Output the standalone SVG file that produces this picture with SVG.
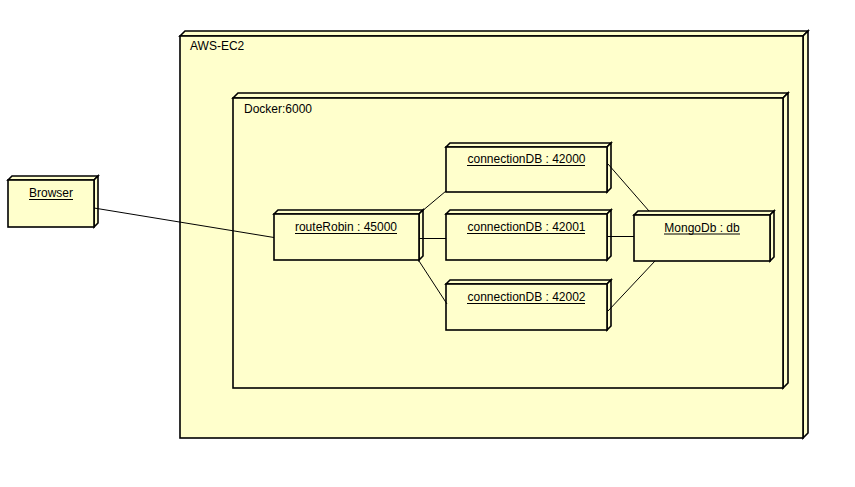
<svg xmlns="http://www.w3.org/2000/svg" width="855" height="487" viewBox="0 0 855 487">
<style>
.f{fill:#FFFFCC;stroke:#000;stroke-width:1.6;stroke-linejoin:miter}
.t{font-family:"Liberation Sans",Arial,sans-serif;font-size:12px;fill:#000}
.u{stroke:#000;stroke-width:1}
.c{stroke:#000;stroke-width:1;fill:none}
</style>
<rect width="855" height="487" fill="#fff"/>
<g id="aws-ec2">
<polygon class="f" points="180,36 185,31 808,31 803,36"/>
<polygon class="f" points="803,36 808,31 808,433 803,438"/>
<rect class="f" x="180" y="36" width="623" height="402"/>
<text class="t" x="190" y="50">AWS-EC2</text>
</g>
<g id="docker">
<polygon class="f" points="233,98 238,93 788,93 783,98"/>
<polygon class="f" points="783,98 788,93 788,383 783,388"/>
<rect class="f" x="233" y="98" width="550" height="290"/>
<text class="t" x="244" y="113">Docker:6000</text>
</g>
<g id="browser">
<polygon class="f" points="8,180 12,176 98,176 94,180"/>
<polygon class="f" points="94,180 98,176 98,223 94,227"/>
<rect class="f" x="8" y="180" width="86" height="47"/>
<text class="t" x="51" y="197" text-anchor="middle">Browser</text>
<line class="u" x1="29" y1="199.5" x2="73" y2="199.5"/>
</g>
<g id="routeRobin">
<polygon class="f" points="274,214 278,210 423,210 419,214"/>
<polygon class="f" points="419,214 423,210 423,256 419,260"/>
<rect class="f" x="274" y="214" width="145" height="46"/>
<text class="t" x="346" y="231" text-anchor="middle">routeRobin : 45000</text>
<line class="u" x1="295" y1="233.5" x2="397" y2="233.5"/>
</g>
<g id="conn42000">
<polygon class="f" points="446,147 450,143 611,143 607,147"/>
<polygon class="f" points="607,147 611,143 611,188 607,192"/>
<rect class="f" x="446" y="147" width="161" height="45"/>
<text class="t" x="526.5" y="163" text-anchor="middle">connectionDB : 42000</text>
<line class="u" x1="467" y1="165.5" x2="585" y2="165.5"/>
</g>
<g id="conn42001">
<polygon class="f" points="446,214 450,210 611,210 607,214"/>
<polygon class="f" points="607,214 611,210 611,256 607,260"/>
<rect class="f" x="446" y="214" width="161" height="46"/>
<text class="t" x="526.5" y="231" text-anchor="middle">connectionDB : 42001</text>
<line class="u" x1="467" y1="233.5" x2="585" y2="233.5"/>
</g>
<g id="conn42002">
<polygon class="f" points="446,284 450,280 611,280 607,284"/>
<polygon class="f" points="607,284 611,280 611,326 607,330"/>
<rect class="f" x="446" y="284" width="161" height="46"/>
<text class="t" x="526.5" y="301" text-anchor="middle">connectionDB : 42002</text>
<line class="u" x1="467" y1="303.5" x2="585" y2="303.5"/>
</g>
<g id="mongodb">
<polygon class="f" points="634,215 638,211 774,211 770,215"/>
<polygon class="f" points="770,215 774,211 774,257 770,261"/>
<rect class="f" x="634" y="215" width="136" height="46"/>
<text class="t" x="702" y="231.5" text-anchor="middle">MongoDb : db</text>
<line class="u" x1="664" y1="234" x2="740" y2="234"/>
</g>
<g id="connectors">
<line class="c" x1="94" y1="208" x2="274" y2="237.5"/>
<line class="c" x1="421" y1="212" x2="446" y2="191"/>
<line class="c" x1="419" y1="238.5" x2="446" y2="238.5"/>
<line class="c" x1="419" y1="261" x2="447" y2="304"/>
<line class="c" x1="608" y1="164" x2="649" y2="211"/>
<line class="c" x1="607" y1="236.5" x2="634" y2="236.5"/>
<line class="c" x1="608" y1="311" x2="655" y2="261"/>
</g>
</svg>
